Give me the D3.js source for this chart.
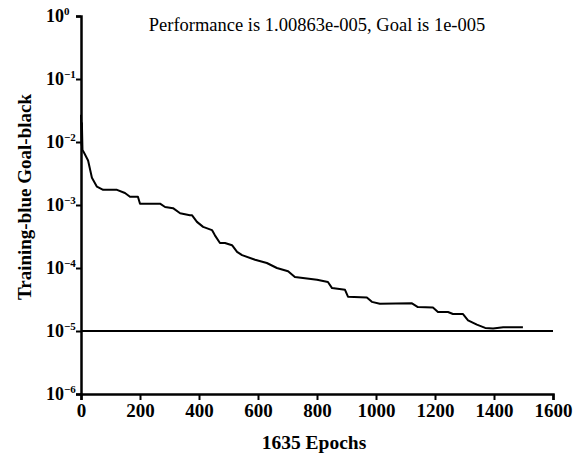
<!DOCTYPE html>
<html>
<head>
<meta charset="utf-8">
<script src="https://cdn.jsdelivr.net/npm/d3@7"></script>
<style>
  body { margin: 0; background: #fff; }
  svg text { font-family: "Times New Roman", Times, "Liberation Serif", "DejaVu Serif", serif; }
</style>
</head>
<body>
<svg id="chart" width="576" height="457"></svg>
<script>
// ---- data ----
const epochs = [0, 2, 3, 5, 10, 24, 37, 54, 75, 122, 149, 166, 193, 200, 268, 285, 312, 336, 369, 376, 393, 414, 444, 454, 471, 488, 512, 529, 546, 590, 630, 664, 702, 725, 800, 837, 851, 895, 905, 969, 986, 1013, 1122, 1142, 1193, 1210, 1244, 1261, 1295, 1312, 1342, 1370, 1397, 1431, 1498];
const performance = [0.027, 0.009, 0.02, 0.0075, 0.0068, 0.0051, 0.0027, 0.00195, 0.00174, 0.00174, 0.00155, 0.00135, 0.00135, 0.00105, 0.00105, 9.3e-4, 8.9e-4, 7.4e-4, 6.9e-4, 6.9e-4, 5.4e-4, 4.5e-4, 4.0e-4, 3.3e-4, 2.5e-4, 2.5e-4, 2.3e-4, 1.8e-4, 1.6e-4, 1.35e-4, 1.2e-4, 1.0e-4, 8.9e-5, 7.2e-5, 6.5e-5, 6.0e-5, 4.8e-5, 4.5e-5, 3.5e-5, 3.4e-5, 2.9e-5, 2.7e-5, 2.75e-5, 2.4e-5, 2.35e-5, 2.0e-5, 2.0e-5, 1.86e-5, 1.86e-5, 1.48e-5, 1.26e-5, 1.12e-5, 1.1e-5, 1.15e-5, 1.15e-5];
const goal = 1e-5;
const xTicks = [0, 200, 400, 600, 800, 1000, 1200, 1400, 1600];
const yTickExponents = [0, -1, -2, -3, -4, -5, -6];
const titleText = "Performance is 1.00863e-005, Goal is 1e-005";
const xLabelText = "1635 Epochs";
const yLabelText = "Training-blue Goal-black";

const FONT = "'Times New Roman', Times, 'Liberation Serif', 'DejaVu Serif', serif";

// ---- layout ----
const svg = d3.select("#chart");
const x = d3.scaleLinear().domain([0, 1600]).range([81, 553]);
const y = d3.scaleLog().domain([1e-6, 1]).range([394, 16]);

// goal line
svg.append("line")
  .attr("x1", x(0)).attr("x2", x(1600))
  .attr("y1", y(goal)).attr("y2", y(goal))
  .attr("stroke", "#000").attr("stroke-width", 2);

// training curve
const line = d3.line().x((d, i) => x(epochs[i])).y(d => y(d));
svg.append("path")
  .datum(performance)
  .attr("d", line)
  .attr("fill", "none")
  .attr("stroke", "#000")
  .attr("stroke-width", 2)
  .attr("stroke-linejoin", "round");

// x axis
const xAxis = svg.append("g")
  .attr("transform", `translate(0,${y(1e-6)})`)
  .call(d3.axisBottom(x).tickValues(xTicks).tickFormat(d3.format("d")).tickSizeOuter(0).tickSize(6).tickPadding(4));
xAxis.attr("font-family", FONT);
xAxis.select(".domain").attr("stroke-width", 2.5);
xAxis.selectAll(".tick line").attr("stroke-width", 2);
xAxis.selectAll(".tick text")
  .attr("font-family", FONT)
  .attr("font-size", 19).attr("font-weight", "bold").attr("fill", "#000");

// y axis
const yAxis = svg.append("g")
  .attr("transform", `translate(${x(0)},0)`)
  .call(d3.axisLeft(y).tickValues(yTickExponents.map(e => Math.pow(10, e))).tickFormat("").tickSizeOuter(0).tickSize(5));
yAxis.select(".domain").attr("stroke-width", 2.5);
yAxis.selectAll(".tick line").attr("stroke-width", 2);

// y tick labels with superscripts
const yl = svg.append("g").attr("font-family", FONT);
yTickExponents.forEach(e => {
  const t = yl.append("text")
    .attr("x", 46).attr("y", y(Math.pow(10, e)) + 6)
    .attr("font-family", FONT)
    .attr("font-size", 18).attr("font-weight", "bold").attr("fill", "#000");
  t.append("tspan").text("10");
  t.append("tspan").attr("font-size", 11).attr("dy", -7)
    .text(e === 0 ? "0" : "\u2212" + Math.abs(e));
});

// title
svg.append("text")
  .attr("x", 317).attr("y", 31).attr("text-anchor", "middle")
  .attr("font-family", FONT)
  .attr("font-size", 18.5).attr("fill", "#000").text(titleText);

// x label
svg.append("text")
  .attr("x", 314).attr("y", 449).attr("text-anchor", "middle")
  .attr("font-family", FONT)
  .attr("font-size", 19.5).attr("font-weight", "bold").attr("fill", "#000").text(xLabelText);

// y label
svg.append("text")
  .attr("transform", "translate(31,197) rotate(-90)")
  .attr("text-anchor", "middle")
  .attr("font-family", FONT)
  .attr("font-size", 19).attr("font-weight", "bold").attr("fill", "#000").text(yLabelText);
</script>
</body>
</html>
